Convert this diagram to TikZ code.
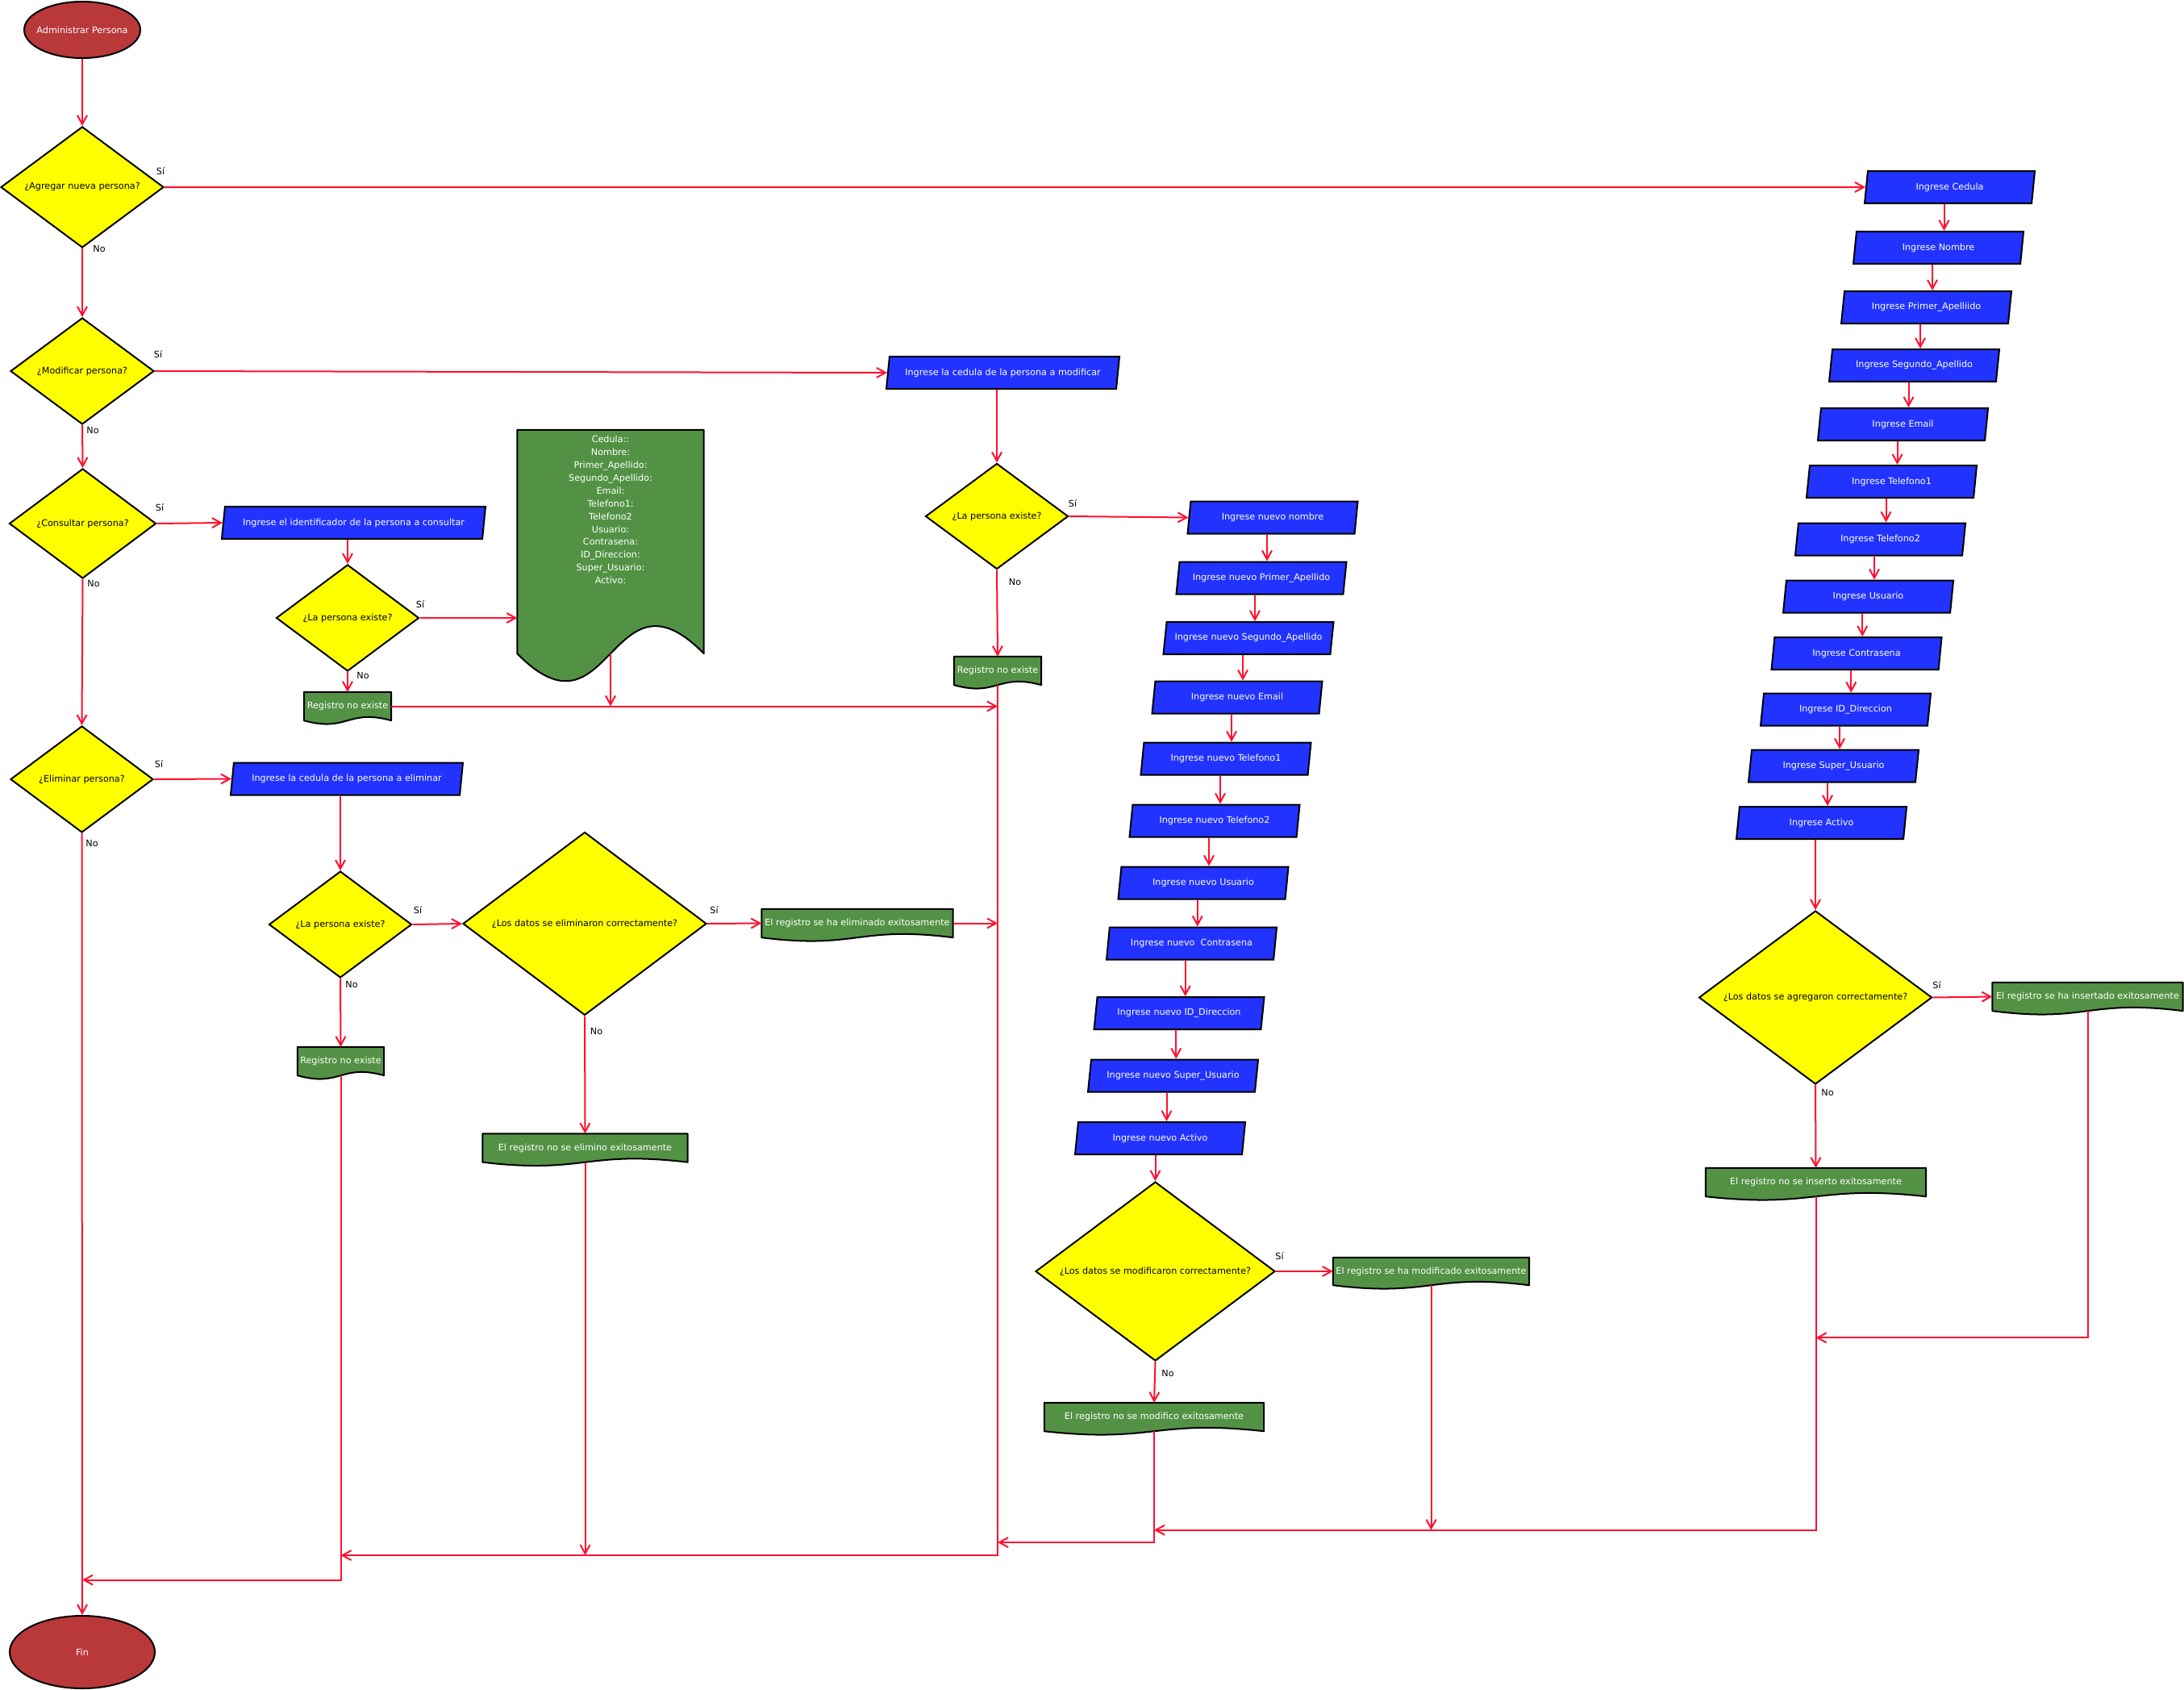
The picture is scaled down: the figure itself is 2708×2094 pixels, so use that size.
\documentclass[tikz,border=0pt]{standalone}
\usepackage{fontspec}
\setmainfont{DejaVu Sans}
\usetikzlibrary{shapes.geometric,arrows.meta,calc,backgrounds}
\definecolor{termred}{HTML}{B9383A}
\definecolor{ioblue}{HTML}{2233FF}
\definecolor{docgreen}{HTML}{539245}
\definecolor{decyellow}{HTML}{FFFF00}
\definecolor{linered}{HTML}{FF1030}
\newcommand\ntxt[1]{\makebox[0pt]{#1}}
\newcommand\drawdocshape[2]{%
  \path[docfill] (#1.south west) -- (#1.north west) -- (#1.north east) -- (#1.south east)
    .. controls ($(#1.south west)!0.5!(#1.south east)+(0,-#2)$) and ($(#1.south west)!0.5!(#1.south east)+(0,#2)$) .. (#1.south west) -- cycle;}
\begin{document}
\begin{tikzpicture}[x=1pt,y=-1pt,
  every node/.style={font=\fontsize{11.2}{13.4}\selectfont, inner sep=0pt},
  term/.style={ellipse, draw=black, line width=2pt, fill=termred, text=white},
  dec/.style={diamond, draw=black, line width=2pt, fill=decyellow, text=black},
  io/.style={trapezium, trapezium left angle=70, trapezium right angle=110, trapezium stretches body,
    draw=black, line width=2pt, fill=ioblue, text=white, minimum height=40, minimum width=211},
  docn/.style={rectangle, text=white, minimum height=35},
  lab/.style={text=black},
  conn/.style={draw=linered, line width=2pt},
  arr/.style={conn, -{Straight Barb[length=11pt,width=12pt]}},
  docfill/.style={fill=docgreen, draw=black, line width=2pt, line join=round},
]
\useasboundingbox (0,0) rectangle (2708,2094);

% terminals
\node[term, minimum width=144, minimum height=70] (start) at (102,37) {\ntxt{Administrar Persona}};
\node[term, minimum width=180, minimum height=90] (fin) at (102,2048) {\ntxt{Fin}};

% decisions
\node[dec, minimum width=202, minimum height=150] (dAdd) at (102,232) {\ntxt{¿Agregar nueva persona?}};
\node[dec, minimum width=178, minimum height=132] (dMod) at (102,460) {\ntxt{¿Modificar persona?}};
\node[dec, minimum width=182, minimum height=136] (dCon) at (102.5,649) {\ntxt{¿Consultar persona?}};
\node[dec, minimum width=177, minimum height=132] (dDel) at (101.5,966) {\ntxt{¿Eliminar persona?}};
\node[dec, minimum width=177, minimum height=132] (dConEx) at (431,766) {\ntxt{¿La persona existe?}};
\node[dec, minimum width=177, minimum height=131] (dModEx) at (1236,640) {\ntxt{¿La persona existe?}};
\node[dec, minimum width=177, minimum height=132] (dDelEx) at (422,1146) {\ntxt{¿La persona existe?}};
\node[dec, minimum width=302, minimum height=227] (dDelOk) at (725,1145) {\ntxt{¿Los datos se eliminaron correctamente?}};
\node[dec, minimum width=297, minimum height=222] (dModOk) at (1432.5,1576) {\ntxt{¿Los datos se modificaron correctamente?}};
\node[dec, minimum width=289, minimum height=215] (dAddOk) at (2251,1236.5) {\ntxt{¿Los datos se agregaron correctamente?}};

% input boxes
\node[io, minimum width=327] (pCon) at (438.5,648) {\ntxt{Ingrese el identificador de la persona a consultar}};
\node[io, minimum width=289] (pMod) at (1243.5,462) {\ntxt{Ingrese la cedula de la persona a modificar}};
\node[io, minimum width=288] (pDel) at (430,965.5) {\ntxt{Ingrese la cedula de la persona a eliminar}};

\node[io] (a1) at (2417.5,232) {\ntxt{Ingrese Cedula}};
\node[io] (a2) at (2403.5,307) {\ntxt{Ingrese Nombre}};
\node[io] (a3) at (2388.5,381) {\ntxt{Ingrese Primer\_Apelliido}};
\node[io] (a4) at (2373.5,453) {\ntxt{Ingrese Segundo\_Apellido}};
\node[io] (a5) at (2359.5,526) {\ntxt{Ingrese Email}};
\node[io] (a6) at (2345.5,597) {\ntxt{Ingrese Telefono1}};
\node[io] (a7) at (2331.5,668.5) {\ntxt{Ingrese Telefono2}};
\node[io] (a8) at (2316.5,739.5) {\ntxt{Ingrese Usuario}};
\node[io] (a9) at (2302,810) {\ntxt{Ingrese Contrasena}};
\node[io] (a10) at (2288.5,879.5) {\ntxt{Ingrese ID\_Direccion}};
\node[io] (a11) at (2273.5,949.5) {\ntxt{Ingrese Super\_Usuario}};
\node[io] (a12) at (2258.5,1020) {\ntxt{Ingrese Activo}};

\node[io] (m1) at (1578,641.5) {\ntxt{Ingrese nuevo nombre}};
\node[io] (m2) at (1564,716.5) {\ntxt{Ingrese nuevo Primer\_Apellido}};
\node[io] (m3) at (1548,791) {\ntxt{Ingrese nuevo Segundo\_Apellido}};
\node[io] (m4) at (1534,864.5) {\ntxt{Ingrese nuevo Email}};
\node[io] (m5) at (1520,940.5) {\ntxt{Ingrese nuevo Telefono1}};
\node[io] (m6) at (1506,1017.5) {\ntxt{Ingrese nuevo Telefono2}};
\node[io] (m7) at (1492,1094.5) {\ntxt{Ingrese nuevo Usuario}};
\node[io] (m8) at (1477.5,1169.5) {\ntxt{Ingrese nuevo~ Contrasena}};
\node[io] (m9) at (1462,1256) {\ntxt{Ingrese nuevo ID\_Direccion}};
\node[io] (m10) at (1454.5,1333.5) {\ntxt{Ingrese nuevo Super\_Usuario}};
\node[io] (m11) at (1438.5,1411) {\ntxt{Ingrese nuevo Activo}};

% documents
\node[docn, minimum width=231, minimum height=277] (cdoc) at (757,671.5) {};
\node[text=white, align=center, font=\fontsize{11.2}{15.9}\selectfont, anchor=north] (cdoctext) at (757,540)
  {Cedula::\\Nombre:\\Primer\_Apellido:\\Segundo\_Apellido:\\Email:\\Telefono1:\\Telefono2\\Usuario:\\Contrasena:\\ID\_Direccion:\\Super\_Usuario:\\Activo:};
\node[docn, minimum width=108] (r1) at (431,875.5) {\ntxt{Registro no existe}};
\node[docn, minimum width=108] (r2) at (1237,831.5) {\ntxt{Registro no existe}};
\node[docn, minimum width=107] (r3) at (422.5,1315.5) {\ntxt{Registro no existe}};
\node[docn, minimum width=237] (e1) at (1063,1144.5) {\ntxt{El registro se ha eliminado exitosamente}};
\node[docn, minimum width=254] (e2) at (725.5,1423) {\ntxt{El registro no se elimino exitosamente}};
\node[docn, minimum width=243, minimum height=34] (e3) at (1774.5,1576) {\ntxt{El registro se ha modificado exitosamente}};
\node[docn, minimum width=272] (e4) at (1431,1756.5) {\ntxt{El registro no se modifico exitosamente}};
\node[docn, minimum width=236] (e5) at (2588.5,1235.5) {\ntxt{El registro se ha insertado exitosamente}};
\node[docn, minimum width=273] (e6) at (2251.5,1465.5) {\ntxt{El registro no se inserto exitosamente}};

\begin{scope}[on background layer]
  \fill[white] (0,0) rectangle (2708,2094);
  \drawdocshape{cdoc}{118}
  \foreach \d in {r1,r2,r3,e1,e2,e3,e4,e5,e6} {\drawdocshape{\d}{15}}
\end{scope}

% labels
\node[lab] (s1) at (199,212) {Sí};      \node[lab] (n1) at (123,308) {No};
\node[lab] (s2) at (196,439) {Sí};      \node[lab] (n2) at (115,533) {No};
\node[lab] (s3) at (198,629) {Sí};      \node[lab] (n3) at (116,723) {No};
\node[lab] (s4) at (197,947) {Sí};      \node[lab] (n4) at (114,1045) {No};
\node[lab] (s5) at (521,749) {Sí};      \node[lab] (n5) at (450,837) {No};
\node[lab] (s6) at (1330,624) {Sí};     \node[lab] (n6) at (1258.5,721) {No};
\node[lab] (s7) at (518,1128.5) {Sí};   \node[lab] (n7) at (436,1220) {No};
\node[lab] (s8) at (885.5,1128) {Sí};   \node[lab] (n8) at (739.5,1278) {No};
\node[lab] (s9) at (1586.5,1557.5) {Sí};\node[lab] (n9) at (1448,1702.5) {No};
\node[lab] (s10) at (2401.5,1221.5) {Sí};\node[lab] (n10) at (2266,1354.5) {No};

% helper coordinates for merge lines
\coordinate (yE) at (0,1658.3);
\coordinate (yA) at (0,1896.7);
\coordinate (yB) at (0,1912);
\coordinate (yC) at (0,1928);
\coordinate (yD) at (0,1958.5);

% connectors: main spine
\draw[arr] (start.south) -- (dAdd.north);
\draw[arr] (dAdd.south) -- (dMod.north);
\draw[arr] (dMod.south) -- (dCon.north);
\draw[arr] (dCon.south) -- (dDel.north);
\draw[arr] (dDel.south) -- (fin.north);

% add branch
\draw[arr] (dAdd.east) -- (a1.west);
\foreach \p/\q in {a1/a2,a2/a3,a3/a4,a4/a5,a5/a6,a6/a7,a7/a8,a8/a9,a9/a10,a10/a11,a11/a12,
                   m1/m2,m2/m3,m3/m4,m4/m5,m5/m6,m6/m7,m7/m8,m8/m9,m9/m10,m10/m11}
  {\path ($(\p.center)!0.5!(\q.center)$) coordinate (mid);
   \draw[arr] (\p.south -| mid) -- (\q.north -| mid);}
\draw[arr] (a12.south -| dAddOk.north) -- (dAddOk.north);
\draw[arr] (dAddOk.east) -- (e5.west);
\draw[arr] (dAddOk.south) -- (e6.north);
\draw[arr] (e5.south) |- (e6.south |- yE);
\draw[arr] (e6.south) |- (e4.south |- yA);

% modify branch
\draw[arr] (dMod.east) -- (pMod.west);
\draw[arr] (pMod.south -| dModEx.north) -- (dModEx.north);
\draw[arr] (dModEx.east) -- (m1.west);
\draw[arr] (dModEx.south) -- (r2.north);
\draw[arr] (m11.south -| dModOk.north) -- (dModOk.north);
\draw[arr] (dModOk.east) -- (e3.west);
\draw[arr] (dModOk.south) -- (e4.north);
\draw[arr] (e3.south) -- (e3.south |- yA);
\draw[arr] (e4.south) |- (r2.south |- yB);
\draw[arr] (r2.south) |- (r3.south |- yC);

% consult branch
\draw[arr] (dCon.east) -- (pCon.west);
\draw[arr] (pCon.south -| dConEx.north) -- (dConEx.north);
\draw[arr] (dConEx.east) -- (dConEx.east -| cdoc.west);
\draw[arr] (dConEx.south) -- (r1.north);
\draw[arr] (r1.east) -- (r1.east -| r2.south);
\draw[arr] (cdoc.south) -- (cdoc.south |- r1.east);

% delete branch
\draw[arr] (dDel.east) -- (pDel.west);
\draw[arr] (pDel.south -| dDelEx.north) -- (dDelEx.north);
\draw[arr] (dDelEx.east) -- (dDelOk.west);
\draw[arr] (dDelEx.south) -- (r3.north);
\draw[arr] (dDelOk.east) -- (e1.west);
\draw[arr] (dDelOk.south) -- (e2.north);
\draw[arr] (e1.east) -- (e1.east -| r2.south);
\draw[arr] (e2.south) -- (e2.south |- yC);
\draw[arr] (r3.south) |- (fin.north |- yD);
\end{tikzpicture}
\end{document}
